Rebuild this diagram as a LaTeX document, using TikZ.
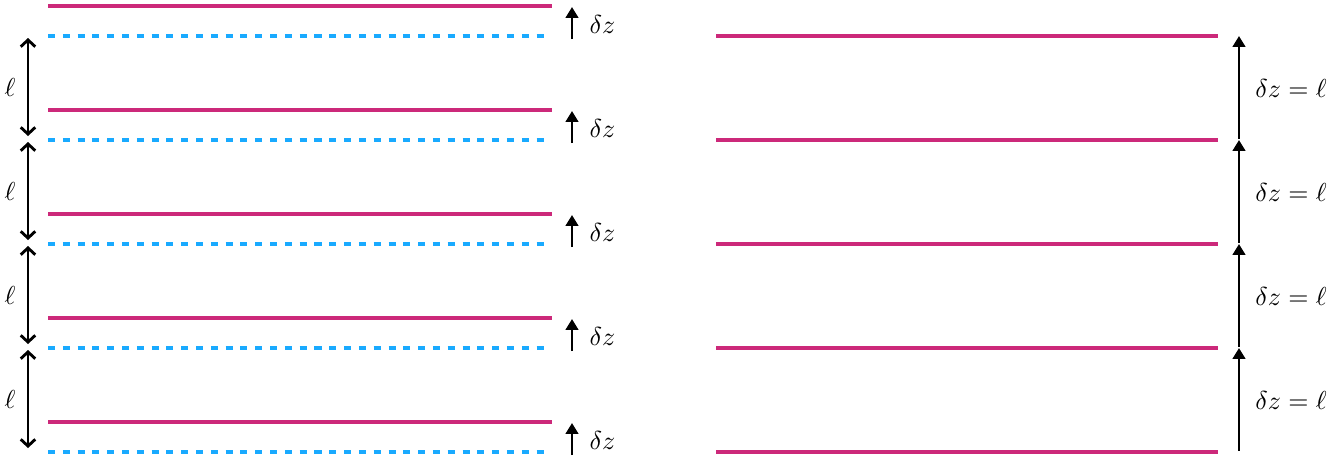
\documentclass[tikz,border=0pt]{standalone}
\usetikzlibrary{arrows.meta}
\definecolor{mag}{RGB}{204,41,122}
\definecolor{sky}{RGB}{25,170,255}
\begin{document}
\begin{tikzpicture}[x=0.385pt,y=-0.385pt,
  layer/.style={draw=mag,line width=1.2pt},
  shifted/.style={draw=sky,line width=1.2pt,dash pattern=on 2.7pt off 3pt},
  dbl/.style={{Straight Barb[length=2.6pt,width=5.6pt,line width=1.1pt]}-{Straight Barb[length=2.6pt,width=5.6pt,line width=1.1pt]},line width=1.1pt},
  uparr/.style={-{Triangle[length=4.2pt,width=4.8pt]},line width=1.1pt},
  lab/.style={inner sep=0pt}]
\useasboundingbox (0,0) rectangle (1329,460);
% left panel
\foreach \i in {0,...,4}{
  \pgfmathsetmacro\ym{6+104*\i}
  \pgfmathsetmacro\yb{36+104*\i}
  \coordinate (mL\i) at (48,\ym);
  \coordinate (mR\i) at (552,\ym);
  \coordinate (bL\i) at (48,\yb);
  \coordinate (bR\i) at (548,\yb);
  \draw[layer] (mL\i) -- (mR\i);
  \draw[shifted] (bL\i) -- (bR\i);
  \coordinate (ua\i) at (572,\yb+3);
  \coordinate (ub\i) at (572,\ym+1);
  \draw[uparr] (ua\i) -- (ub\i);
  \node[lab,anchor=west] (dz\i) at (589,\ym+18) {$\delta z$};
}
\foreach \i in {0,...,3}{
  \pgfmathsetmacro\ya{36+104*\i+2}
  \pgfmathsetmacro\yc{36+104*(\i+1)-4}
  \coordinate (la\i) at (28,\ya);
  \coordinate (lb\i) at (28,\yc);
  \draw[dbl] (la\i) -- (lb\i);
  \node[lab] (ell\i) at (10,{(\ya+\yc)/2}) {$\ell$};
}
% right panel
\foreach \i in {0,...,4}{
  \pgfmathsetmacro\yr{36+104*\i}
  \coordinate (rL\i) at (716,\yr);
  \coordinate (rR\i) at (1218,\yr);
  \draw[layer] (rL\i) -- (rR\i);
  \coordinate (ra\i) at (1239,\yr);
}
\foreach \i [evaluate=\i as \j using int(\i-1)] in {1,...,4}{
  \draw[uparr] ([yshift=0.4pt]ra\i) -- (ra\j);
  \pgfmathsetmacro\ymid{36+104*\i-52}
  \node[lab] (rl\i) at (1291,\ymid) {$\delta z=\ell$};
}
\end{tikzpicture}
\end{document}
